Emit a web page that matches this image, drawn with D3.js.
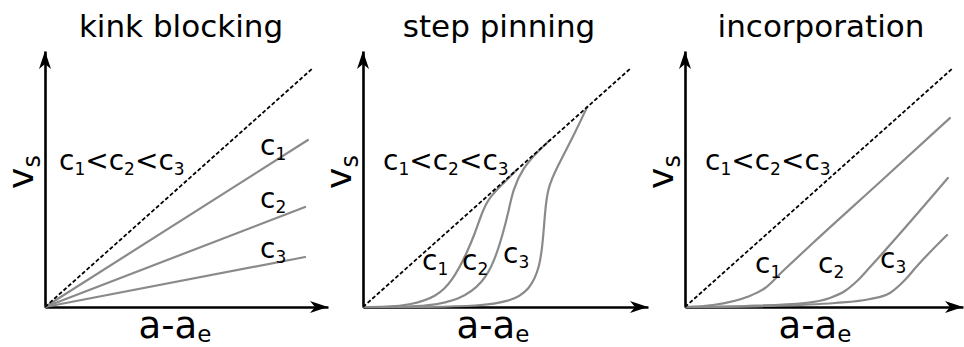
<!DOCTYPE html>
<html>
<head>
<meta charset="utf-8">
<script src="https://cdn.jsdelivr.net/npm/d3@7"></script>
<style>
  body { margin: 0; background: #fff; }
  svg { display: block; }
  text { font-family: "DejaVu Sans", Verdana, sans-serif; fill: #000; }
</style>
</head>
<body>
<svg id="chart" width="964" height="347"></svg>
<script>
// Panel titles and series names
const titles = ["kink blocking", "step pinning", "incorporation"];
const seriesSubs = ["1", "2", "3"];

// Ideal (impurity-free) step velocity: straight dashed line, same in every panel
const idealLine = [[0, 0], [94.7, 95.6]];

// Kink blocking: slope reduced by impurity concentration
const kinkC1 = [[0, 0], [92.9, 66.8]];
const kinkC2 = [[0, 0], [91.9, 40.0]];
const kinkC3 = [[0, 0], [91.9, 20.0]];

// Step pinning: dead zone then sharp recovery onto the ideal line
const pinC1 = [[0, 0], [8.5, 0], [16.6, 0.8], [26.1, 4], [31.8, 10.8], [36.7, 21.6], [39.6, 29.6],
               [42.0, 37.6], [44.2, 43.2], [48.8, 48.6], [54.4, 55.0]];
const pinC2 = [[0, 0], [14.1, 0], [22.6, 0.4], [34.3, 2.8], [42.4, 9.6], [46.6, 18.8], [49.5, 29.6],
               [51.4, 38.0], [53.0, 47.0], [56.5, 55.6], [61.5, 62.0], [66.1, 66.8]];
const pinC3 = [[0, 0], [24.7, 0], [40.3, 0.4], [51.9, 2.0], [59.0, 6.8], [62.5, 16.0], [63.6, 26.8],
               [64.3, 37.6], [65.2, 47.6], [68.6, 56.0], [74.2, 68.0], [79.2, 80.0]];

// Incorporation: delayed onset, then growth parallel to the ideal line
const incC1 = [[0, 0], [9.9, 0.8], [21.9, 4.0], [28.3, 7.6], [34.6, 14.4], [45.2, 25.6], [68.9, 50.0], [93.6, 75.6]];
const incC2 = [[0, 0], [21.2, 0.4], [42.4, 1.6], [51.2, 3.6], [56.5, 6.4], [60.8, 10.4], [65.4, 16.0], [92.9, 51.6]];
const incC3 = [[0, 0], [28.3, 0.4], [53.0, 1.6], [65.4, 3.2], [72.4, 5.6], [77.7, 10.8], [82.0, 16.4], [92.6, 28.8]];

const panelSeries = [
  [kinkC1, kinkC2, kinkC3],
  [pinC1, pinC2, pinC3],
  [incC1, incC2, incC3]
];

// Layout (pixels)
const panelLeft = [45, 363, 685];
const axisLength = [283, 285, 278];
const originY = 307;
const axisTopY = 51;
const pxPerUnitX = 2.83;
const pxPerUnitY = 2.5;
const curveTypes = [d3.curveLinear, d3.curveBasis, d3.curveMonotoneX];
// label anchor offsets relative to the panel origin x, absolute baseline y
const seriesLabelPos = [
  [[215, 155], [215, 208], [215, 258]],
  [[59, 270], [99, 270], [140, 263]],
  [[70, 273], [133, 273], [195, 268]]
];
const orderLabelX = [14, 20, 20];

const svg = d3.select("#chart");

function arrowRight(tx, ty) {
  const L = 18, w = 6, n = 5;
  return `M${tx},${ty} L${tx - L},${ty - w} L${tx - L + n},${ty} L${tx - L},${ty + w} Z`;
}
function arrowUp(tx, ty) {
  const L = 18, w = 6, n = 5;
  return `M${tx},${ty} L${tx - w},${ty + L} L${tx},${ty + L - n} L${tx + w},${ty + L} Z`;
}

// text with subscripts: parts = [[text, isSub], ...]
function richText(g, parts, size, subSize, subDrop) {
  let down = false;
  parts.forEach(([t, sub]) => {
    const ts = g.append("tspan").text(t).attr("font-size", sub ? subSize : size);
    if (sub && !down) { ts.attr("dy", subDrop); down = true; }
    else if (!sub && down) { ts.attr("dy", -subDrop); down = false; }
  });
  return g;
}

titles.forEach((title, p) => {
  const x0 = panelLeft[p];
  const x = d3.scaleLinear()
    .domain([0, axisLength[p] / pxPerUnitX])
    .range([x0, x0 + axisLength[p]]);
  const y = d3.scaleLinear()
    .domain([0, (originY - axisTopY) / pxPerUnitY])
    .range([originY, axisTopY]);

  const g = svg.append("g");

  // axes (no ticks) with arrow heads
  const xAxis = g.append("g").attr("transform", `translate(0,${originY})`)
    .call(d3.axisBottom(x).tickValues([]).tickSizeOuter(0));
  const yAxis = g.append("g").attr("transform", `translate(${x0},0)`)
    .call(d3.axisLeft(y).tickValues([]).tickSizeOuter(0));
  [xAxis, yAxis].forEach(a => a.select(".domain")
    .attr("stroke", "#000").attr("stroke-width", 2.6));
  g.append("path").attr("d", arrowRight(x.range()[1], originY)).attr("fill", "#000");
  g.append("path").attr("d", arrowUp(x0, y.range()[1])).attr("fill", "#000");

  // series curves
  const line = d3.line().x(d => x(d[0])).y(d => y(d[1])).curve(curveTypes[p]);
  panelSeries[p].forEach(s => {
    g.append("path").attr("d", line(s))
      .attr("fill", "none").attr("stroke", "#8a8a8a")
      .attr("stroke-width", 2.2).attr("stroke-linecap", "round");
  });

  // ideal dashed line
  g.append("path").attr("d", d3.line().x(d => x(d[0])).y(d => y(d[1]))(idealLine))
    .attr("fill", "none").attr("stroke", "#000")
    .attr("stroke-width", 1.8).attr("stroke-dasharray", "4,2.2");

  // title
  g.append("text").attr("x", x0 + 136).attr("y", 37)
    .attr("text-anchor", "middle").attr("font-size", 31).text(title);

  // axis labels
  const xl = g.append("text").attr("x", x0 + 130).attr("y", 338)
    .attr("text-anchor", "middle");
  richText(xl, [["a-a", false], ["e", true]], 37, 23, 4);

  const yl = g.append("text")
    .attr("transform", `translate(${x0 - 12},172) rotate(-90)`)
    .attr("text-anchor", "middle");
  richText(yl, [["v", false], ["s", true]], 36, 24, 7);

  // concentration ordering
  const ol = g.append("text").attr("x", x0 + orderLabelX[p]).attr("y", 170);
  richText(ol, [["c", false], ["1", true], ["<c", false], ["2", true], ["<c", false], ["3", true]], 28, 17, 5);

  // series labels
  seriesSubs.forEach((sub, i) => {
    const [lx, ly] = seriesLabelPos[p][i];
    const t = g.append("text").attr("x", x0 + lx).attr("y", ly);
    richText(t, [["c", false], [sub, true]], 28, 17, 5);
  });
});
</script>
</body>
</html>
